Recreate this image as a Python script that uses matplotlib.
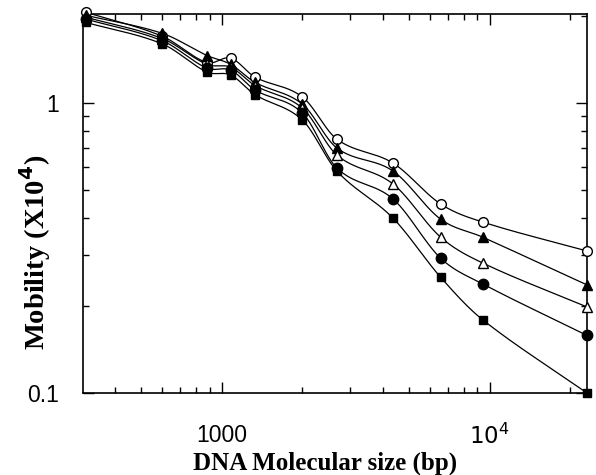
import numpy as np
import matplotlib
matplotlib.use("Agg")
import matplotlib.pyplot as plt
from matplotlib.ticker import FixedLocator, NullFormatter, LogLocator

# ---- data ----
sizes_bp = [310, 600, 880, 1080, 1330, 2000, 2690, 4360, 6560, 9420, 23130]
open_circle = [2.06, 1.70, 1.38, 1.43, 1.23, 1.05, 0.751, 0.621, 0.449, 0.389, 0.309]
filled_triangle = [2.01, 1.74, 1.46, 1.36, 1.18, 0.992, 0.700, 0.583, 0.398, 0.345, 0.236]
open_triangle = [1.98, 1.67, 1.36, 1.33, 1.15, 0.961, 0.662, 0.526, 0.345, 0.281, 0.198]
filled_circle = [1.95, 1.64, 1.32, 1.30, 1.11, 0.924, 0.597, 0.467, 0.292, 0.238, 0.158]
filled_square = [1.90, 1.60, 1.28, 1.25, 1.07, 0.874, 0.583, 0.401, 0.251, 0.179, 0.100]

x_tick_values = [1000, 10000]
x_tick_labels = ["1000", r"$10^4$"]
y_tick_values = [0.1, 1]
y_tick_labels = ["0.1", "1"]


def hermite_curve(x, y, xn):
    """Cubic Hermite curve through the points with finite-difference tangents (drawing only)."""
    x = np.asarray(x, float); y = np.asarray(y, float)
    n = len(x); h = np.diff(x); d = np.diff(y) / h
    m = np.empty(n)
    m[0] = d[0]; m[-1] = d[-1]
    for k in range(1, n - 1):
        m[k] = (y[k + 1] - y[k - 1]) / (x[k + 1] - x[k - 1])
    idx = np.clip(np.searchsorted(x, xn) - 1, 0, n - 2)
    t = (xn - x[idx]) / h[idx]
    h00 = 2 * t**3 - 3 * t**2 + 1; h10 = t**3 - 2 * t**2 + t
    h01 = -2 * t**3 + 3 * t**2; h11 = t**3 - t**2
    return h00 * y[idx] + h10 * h[idx] * m[idx] + h01 * y[idx + 1] + h11 * h[idx] * m[idx + 1]


fig = plt.figure(figsize=(5.96, 4.75), dpi=100)
ax = fig.add_axes([0.1393, 0.1726, 0.8457, 0.7979])
ax.set_xscale("log"); ax.set_yscale("log")

series = [
    (open_circle, dict(marker="o", mfc="white", ms=7)),
    (filled_triangle, dict(marker="^", mfc="black", ms=6.5)),
    (open_triangle, dict(marker="^", mfc="white", ms=6.5)),
    (filled_circle, dict(marker="o", mfc="black", ms=7.5)),
    (filled_square, dict(marker="s", mfc="black", ms=6)),
]

lx = np.log10(sizes_bp)
xs_fine = np.linspace(lx[0], lx[-1], 800)
for vals, st in series:
    ly = np.log10(vals)
    ax.plot(10**xs_fine, 10**hermite_curve(lx, ly, xs_fine), color="black", lw=0.9,
            clip_on=False, zorder=2)
for vals, st in series:
    ax.plot(sizes_bp, vals, linestyle="none", mec="black", mew=1.0, clip_on=False, zorder=3, **st)

ax.set_xlim(303, 23130)
ax.set_ylim(0.1, 2.03)

ax.xaxis.set_major_locator(FixedLocator(x_tick_values))
ax.set_xticklabels(x_tick_labels)
ax.xaxis.set_minor_locator(LogLocator(base=10, subs=np.arange(2, 10)))
ax.xaxis.set_minor_formatter(NullFormatter())
ax.yaxis.set_major_locator(FixedLocator(y_tick_values))
ax.set_yticklabels(y_tick_labels)
ax.yaxis.set_minor_locator(LogLocator(base=10, subs=np.arange(2, 10)))
ax.yaxis.set_minor_formatter(NullFormatter())

ax.tick_params(which="both", direction="in", top=True, right=True, width=1.0)
ax.tick_params(which="major", length=8)
ax.tick_params(which="minor", length=4)
ax.tick_params(axis="x", which="major", pad=22)
ax.tick_params(axis="y", which="major", pad=17)
for lab in ax.get_xticklabels() + ax.get_yticklabels():
    lab.set_fontfamily("Liberation Sans")
    lab.set_fontsize(16.5)
for s in ax.spines.values():
    s.set_linewidth(1.2)

ax.set_xlabel("DNA Molecular size (bp)", fontfamily="Liberation Serif", fontweight="bold",
              fontsize=18)
ax.xaxis.set_label_coords(0.48, -0.155)
ax.set_ylabel(r"Mobility (X10$^{\mathbf{4}}$)", fontfamily="Liberation Serif", fontweight="bold",
              fontsize=20.5)
ax.yaxis.set_label_coords(-0.06, 0.37)

fig.savefig("out.png", dpi=100)
